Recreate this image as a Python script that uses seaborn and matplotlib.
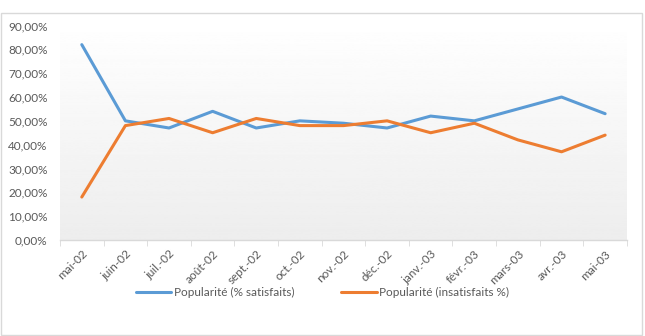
import numpy as np
import pandas as pd
import matplotlib
matplotlib.use('Agg')
import matplotlib.pyplot as plt
import seaborn as sns
from matplotlib.ticker import FuncFormatter, FixedLocator
from matplotlib.patches import Rectangle

months = ['mai-02', 'juin-02', 'juil.-02', 'août-02', 'sept.-02', 'oct.-02', 'nov.-02',
          'déc.-02', 'janv.-03', 'févr.-03', 'mars-03', 'avr.-03', 'mai-03']
satisfaits = [0.82, 0.50, 0.47, 0.54, 0.47, 0.50, 0.49, 0.47, 0.52, 0.50, 0.55, 0.60, 0.53]
insatisfaits = [0.18, 0.48, 0.51, 0.45, 0.51, 0.48, 0.48, 0.50, 0.45, 0.49, 0.42, 0.37, 0.44]
series_names = ['Popularité (% satisfaits)', 'Popularité (insatisfaits %)']

df = pd.DataFrame({
    'pos': list(range(len(months))) * 2,
    'val': satisfaits + insatisfaits,
    'serie': [series_names[0]] * len(months) + [series_names[1]] * len(months),
})

sns.set_style('white')
plt.rcParams['font.family'] = ['Lato', 'DejaVu Sans']

fig = plt.figure(figsize=(6.45, 3.36), dpi=100)
ax = fig.add_axes([0.093, 0.286, 0.879, 0.652])

# light gradient in plot area
grad = np.linspace(1.0, 0.93, 256).reshape(-1, 1)
ax.imshow(grad, extent=[0, 1, 0, 1], transform=ax.transAxes, aspect='auto',
          cmap='gray', vmin=0, vmax=1, zorder=0)

sns.lineplot(data=df, x='pos', y='val', hue='serie', ax=ax,
             palette=['#5B9BD5', '#ED7D31'], linewidth=2.2, legend=False, zorder=3)

ax.set_xlim(-0.5, len(months) - 0.5)
ax.set_ylim(0, 0.92)
ax.set_yticks(np.arange(0, 0.91, 0.1))
ax.yaxis.set_major_formatter(FuncFormatter(lambda v, p: f'{v*100:.2f}%'.replace('.', ',')))
ax.set_xticks(range(len(months)))
ax.set_xticklabels(months, rotation=45, ha='right', rotation_mode='anchor')
ax.xaxis.set_minor_locator(FixedLocator(np.arange(-0.5, len(months), 1)))
ax.tick_params(axis='x', which='major', length=0, pad=6, labelsize=8.5, colors='#595959')
ax.tick_params(axis='x', which='minor', length=4, color='#d9d9d9', bottom=True)
ax.tick_params(axis='y', length=0, labelsize=8.5, colors='#595959', pad=9)
ax.set_xlabel('')
ax.set_ylabel('')
for s in ['top', 'right', 'left']:
    ax.spines[s].set_visible(False)
ax.spines['bottom'].set_color('#d9d9d9')
ax.spines['bottom'].set_linewidth(1)

# outer chart border
fig.patches.append(Rectangle((0.002, 0.002), 0.994, 0.96, transform=fig.transFigure,
                             fill=False, edgecolor='#d9d9d9', linewidth=1))

handles = [plt.Line2D([], [], color='#5B9BD5', lw=2.2),
           plt.Line2D([], [], color='#ED7D31', lw=2.2)]
fig.legend(handles, series_names, loc='center', bbox_to_anchor=(0.5, 0.13), ncol=2,
           frameon=False, fontsize=8.5, labelcolor='#595959', handlelength=3.0,
           handletextpad=0.2, columnspacing=4.0)

fig.savefig('out.png', dpi=100)
